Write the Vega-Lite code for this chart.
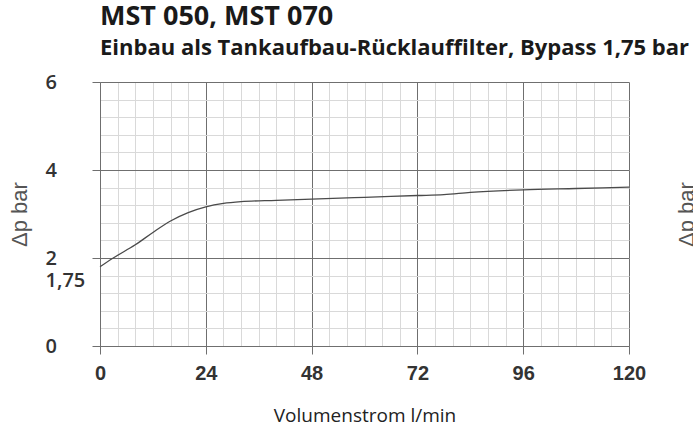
{
  "$schema": "https://vega.github.io/schema/vega-lite/v6.json",
  "autosize": "none",
  "width": 529,
  "height": 264,
  "padding": {"left": 100, "top": 82, "right": 64, "bottom": 83},
  "background": "white",
  "config": {"view": {"stroke": null}},
  "title": {
    "text": "MST 050, MST 070",
    "subtitle": "Einbau als Tankaufbau-Rücklauffilter, Bypass 1,75 bar",
    "anchor": "start",
    "frame": "group",
    "font": "Open Sans",
    "fontSize": 27,
    "fontWeight": 700,
    "color": "#1a1a1a",
    "subtitleFont": "Open Sans",
    "subtitleFontSize": 22,
    "subtitleFontWeight": 700,
    "subtitleColor": "#1a1a1a",
    "subtitlePadding": 7,
    "offset": 12
  },
  "data": {
    "values": [
      {"q": 0, "dp": 1.8},
      {"q": 3, "dp": 2.0},
      {"q": 8, "dp": 2.3},
      {"q": 12, "dp": 2.58},
      {"q": 16, "dp": 2.84},
      {"q": 20, "dp": 3.03},
      {"q": 24, "dp": 3.16},
      {"q": 28, "dp": 3.24},
      {"q": 32, "dp": 3.28},
      {"q": 40, "dp": 3.31},
      {"q": 48, "dp": 3.34},
      {"q": 60, "dp": 3.38},
      {"q": 72, "dp": 3.42},
      {"q": 78, "dp": 3.44},
      {"q": 84, "dp": 3.49},
      {"q": 96, "dp": 3.55},
      {"q": 108, "dp": 3.58},
      {"q": 120, "dp": 3.61}
    ]
  },
  "resolve": {"axis": {"x": "independent", "y": "independent"}},
  "layer": [
    {
      "mark": {"type": "line", "opacity": 0},
      "encoding": {
        "x": {
          "field": "q", "type": "quantitative",
          "scale": {"domain": [0, 120], "nice": false},
          "axis": {
            "orient": "top", "values": [0,4,8,12,16,20,24,28,32,36,40,44,48,52,56,60,64,68,72,76,80,84,88,92,96,100,104,108,112,116,120],
            "grid": true, "gridColor": "#d9d9d9", "gridWidth": 1,
            "labels": false, "ticks": false, "domain": false, "title": null
          }
        },
        "y": {
          "field": "dp", "type": "quantitative",
          "scale": {"domain": [0, 6], "nice": false},
          "axis": {
            "orient": "right", "values": [0,0.4,0.8,1.2,1.6,2,2.4,2.8,3.2,3.6,4,4.4,4.8,5.2,5.6,6],
            "grid": true, "gridColor": "#d9d9d9", "gridWidth": 1,
            "labels": false, "ticks": false, "domain": false,
            "title": "Δp bar", "titleFont": "Liberation Sans", "titleFontSize": 22,
            "titleFontWeight": "normal", "titleColor": "#555555",
            "titleAngle": 270, "titleAlign": "center", "titleBaseline": "alphabetic",
            "titleX": 64, "titleY": 132
          }
        }
      }
    },
    {
      "mark": {"type": "line", "color": "#4a4a4a", "strokeWidth": 1.3, "interpolate": "monotone"},
      "encoding": {
        "x": {
          "field": "q", "type": "quantitative",
          "scale": {"domain": [0, 120], "nice": false},
          "axis": {
            "orient": "bottom", "values": [0, 24, 48, 72, 96, 120],
            "grid": true, "gridColor": "#6f6f6f", "gridWidth": 1,
            "domainColor": "#6f6f6f", "tickColor": "#6f6f6f", "tickSize": 8,
            "labelFont": "Liberation Sans", "labelFontSize": 20, "labelFontWeight": "bold",
            "labelColor": "#333333", "labelPadding": 9, "labelFlush": false,
            "title": "Volumenstrom l/min", "titleFont": "Open Sans", "titleFontSize": 19,
            "titleFontWeight": "normal", "titleColor": "#222222",
            "titleBaseline": "alphabetic", "titleY": 75
          }
        },
        "y": {
          "field": "dp", "type": "quantitative",
          "scale": {"domain": [0, 6], "nice": false},
          "axis": {
            "orient": "left", "values": [0, 1.75, 2, 4, 6],
            "format": ".2~f",
            "grid": true, "gridColor": "#6f6f6f", "gridWidth": 1,
            "gridOpacity": {"condition": {"test": "datum.value == 1.75", "value": 0}, "value": 1},
            "tickOpacity": {"condition": {"test": "datum.value == 1.75", "value": 0}, "value": 1},
            "domainColor": "#6f6f6f", "tickColor": "#6f6f6f", "tickSize": 8,
            "labelFont": "Open Sans", "labelFontSize": 20, "labelFontWeight": 600,
            "labelColor": "#333333", "labelAlign": "left", "labelPadding": 47,
            "labelOffset": {"condition": {"test": "datum.value == 1.75", "value": 11}, "value": 0},
            "labelFlush": false, "labelOverlap": false,
            "labelExpr": "replace(datum.label, '.', ',')",
            "title": "Δp bar", "titleFont": "Liberation Sans", "titleFontSize": 22,
            "titleFontWeight": "normal", "titleColor": "#555555",
            "titleAngle": 270, "titleAlign": "center", "titleBaseline": "alphabetic",
            "titleX": -74, "titleY": 132
          }
        }
      }
    }
  ]
}
